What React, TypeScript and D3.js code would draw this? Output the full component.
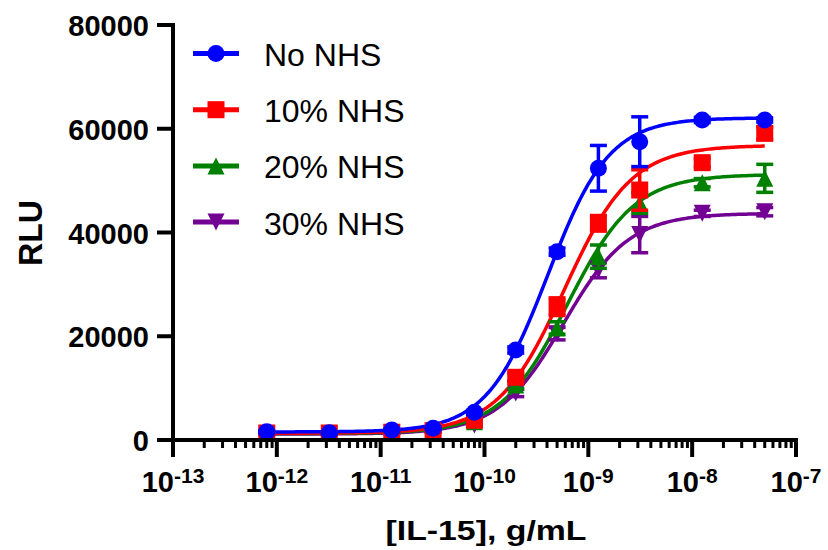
import React from "react";
import * as d3 from "d3";

// IL-15 concentrations (g/mL), lowest to highest
const concentrations = [8e-13, 3.2e-12, 1.28e-11, 3.2e-11, 8e-11, 2e-10, 5e-10, 1.25e-9, 3.125e-9, 1.25e-8, 5e-8];

// Mean RLU and error per serum condition
const noNhsRlu = [1600, 1410, 1930, 2250, 5330, 17350, 36300, 52380, 57500, 61690, 61690];
const noNhsErr = [150, 150, 200, 200, 400, 600, 700, 4400, 4800, 500, 400];
const nhs10Rlu = [1350, 1350, 1500, 1800, 3800, 12090, 25700, 41770, 48190, 53460, 59120];
const nhs10Err = [100, 100, 150, 150, 300, 800, 1700, 1500, 3900, 800, 1200];
const nhs20Rlu = [1250, 1250, 1400, 1700, 3500, 10600, 21590, 35340, 45690, 49600, 50440];
const nhs20Err = [100, 100, 100, 150, 300, 700, 1200, 2250, 2000, 800, 2700];
const nhs30Rlu = [1150, 1150, 1300, 1600, 2900, 9060, 20500, 32770, 39600, 43700, 44010];
const nhs30Err = [100, 100, 100, 100, 300, 700, 1200, 1500, 3500, 600, 800];

// Four-parameter logistic fit per condition
const fitBottom = [1550, 1300, 1250, 1150];
const fitTop = [62100, 56800, 51200, 43700];
const fitLogEC50 = [-9.39, -9.23, -9.2, -9.24];
const fitHill = [1.47, 1.35, 1.35, 1.38];

const seriesNames = ["No NHS", "10% NHS", "20% NHS", "30% NHS"];
const seriesColors = ["#0000ff", "#ff0000", "#008000", "#720093"];
const seriesShapes = ["circle", "square", "triangleUp", "triangleDown"];
const seriesValues = [noNhsRlu, nhs10Rlu, nhs20Rlu, nhs30Rlu];
const seriesErrors = [noNhsErr, nhs10Err, nhs20Err, nhs30Err];

const yTicks = [0, 20000, 40000, 60000, 80000];
const xDecades = [-13, -12, -11, -10, -9, -8, -7];

const W = 828;
const H = 550;
const plotLeft = 173;
const plotRight = 796;
const plotTop = 25;
const plotBottom = 440;

const x = d3.scaleLog().domain([1e-13, 1e-7]).range([plotLeft, plotRight]);
const y = d3.scaleLinear().domain([0, 80000]).range([plotBottom, plotTop]);

const boldFont = "'Liberation Sans', Arial, Helvetica, sans-serif";

function markerPath(shape: string, cx: number, cy: number, s: number): string {
  const h = s / 2;
  if (shape === "circle") {
    const p = d3.path();
    p.arc(cx, cy, h, 0, Math.PI * 2);
    return p.toString();
  }
  if (shape === "square") {
    return `M${cx - h},${cy - h}H${cx + h}V${cy + h}H${cx - h}Z`;
  }
  if (shape === "triangleUp") {
    return `M${cx},${cy - h}L${cx + h},${cy + h}L${cx - h},${cy + h}Z`;
  }
  return `M${cx},${cy + h}L${cx + h},${cy - h}L${cx - h},${cy - h}Z`;
}

function logistic(i: number, conc: number): number {
  const b = fitBottom[i];
  const t = fitTop[i];
  return b + (t - b) / (1 + Math.pow(10, fitHill[i] * (fitLogEC50[i] - Math.log10(conc))));
}

export default function App() {
  const lineGen = d3
    .line<[number, number]>()
    .x((d) => x(d[0]))
    .y((d) => y(d[1]));

  const lo = Math.log10(concentrations[0]);
  const hi = Math.log10(concentrations[concentrations.length - 1]);
  const samples = d3.range(0, 241).map((k) => Math.pow(10, lo + ((hi - lo) * k) / 240));

  const minorTicks: number[] = [];
  xDecades.slice(0, -1).forEach((e) => {
    for (let k = 2; k <= 9; k++) minorTicks.push(k * Math.pow(10, e));
  });

  const order = [3, 2, 1, 0];
  const markerSize = 17;
  const capHalf = 8.5;

  return (
    <svg
      width={W}
      height={H}
      viewBox={`0 0 ${W} ${H}`}
      style={{ position: "absolute", left: 0, top: 0, background: "#fff" }}
    >
      <rect width={W} height={H} fill="#fff" />

      {/* fitted curves */}
      {order.map((i) => (
        <path
          key={`fit-${i}`}
          d={lineGen(samples.map((c) => [c, logistic(i, c)] as [number, number])) || ""}
          fill="none"
          stroke={seriesColors[i]}
          strokeWidth={3.5}
        />
      ))}

      {/* error bars and points */}
      {order.map((i) => (
        <g key={`pts-${i}`}>
          {concentrations.map((c, j) => {
            const v = seriesValues[i][j];
            const e = seriesErrors[i][j];
            const cx = x(c);
            const y1 = y(v + e);
            const y2 = y(v - e);
            return (
              <g key={j}>
                <line x1={cx} x2={cx} y1={y1} y2={y2} stroke={seriesColors[i]} strokeWidth={3.5} />
                <line x1={cx - capHalf} x2={cx + capHalf} y1={y1} y2={y1} stroke={seriesColors[i]} strokeWidth={3.5} />
                <line x1={cx - capHalf} x2={cx + capHalf} y1={y2} y2={y2} stroke={seriesColors[i]} strokeWidth={3.5} />
                <path d={markerPath(seriesShapes[i], cx, y(v), markerSize)} fill={seriesColors[i]} />
              </g>
            );
          })}
        </g>
      ))}

      {/* y axis */}
      <line x1={plotLeft} x2={plotLeft} y1={plotTop - 2} y2={457} stroke="#000" strokeWidth={4} />
      {yTicks.map((t) => (
        <g key={`yt-${t}`}>
          <line x1={157} x2={plotLeft} y1={y(t)} y2={y(t)} stroke="#000" strokeWidth={4} />
          <text
            x={149}
            y={y(t) + 11}
            textAnchor="end"
            fontFamily={boldFont}
            fontWeight="bold"
            fontSize={29}
            fill="#000"
          >
            {t}
          </text>
        </g>
      ))}
      <text
        transform={`translate(42, ${233}) rotate(-90)`}
        textAnchor="middle"
        fontFamily={boldFont}
        fontWeight="bold"
        fontSize={34}
        textLength={66}
        lengthAdjust="spacingAndGlyphs"
        fill="#000"
      >
        RLU
      </text>

      {/* x axis */}
      <line x1={plotLeft - 2} x2={plotRight + 2} y1={plotBottom} y2={plotBottom} stroke="#000" strokeWidth={4} />
      {minorTicks.map((t, k) => (
        <line key={`mt-${k}`} x1={x(t)} x2={x(t)} y1={plotBottom} y2={448} stroke="#000" strokeWidth={3} />
      ))}
      {xDecades.map((e) => (
        <g key={`xt-${e}`}>
          <line x1={x(Math.pow(10, e))} x2={x(Math.pow(10, e))} y1={plotBottom} y2={457} stroke="#000" strokeWidth={4} />
          <text
            x={x(Math.pow(10, e))}
            y={492}
            textAnchor="middle"
            fontFamily={boldFont}
            fontWeight="bold"
            fontSize={29}
            fill="#000"
          >
            <tspan>10</tspan>
            <tspan dy={-9} fontSize={21}>
              {String(e)}
            </tspan>
          </text>
        </g>
      ))}
      <text
        x={486}
        y={540}
        textAnchor="middle"
        fontFamily={boldFont}
        fontWeight="bold"
        fontSize={28}
        textLength={201}
        lengthAdjust="spacingAndGlyphs"
        fill="#000"
      >
        [IL-15], g/mL
      </text>

      {/* legend */}
      {seriesNames.map((name, i) => {
        const ly = 53.5 + i * 56.2;
        return (
          <g key={`lg-${i}`}>
            <line x1={193} x2={239} y1={ly} y2={ly} stroke={seriesColors[i]} strokeWidth={5} />
            <path d={markerPath(seriesShapes[i], 216, ly, markerSize)} fill={seriesColors[i]} />
            <text
              x={264}
              y={ly + 12.5}
              fontFamily={boldFont}
              fontSize={32}
              fill="#000"
            >
              {name}
            </text>
          </g>
        );
      })}
    </svg>
  );
}
